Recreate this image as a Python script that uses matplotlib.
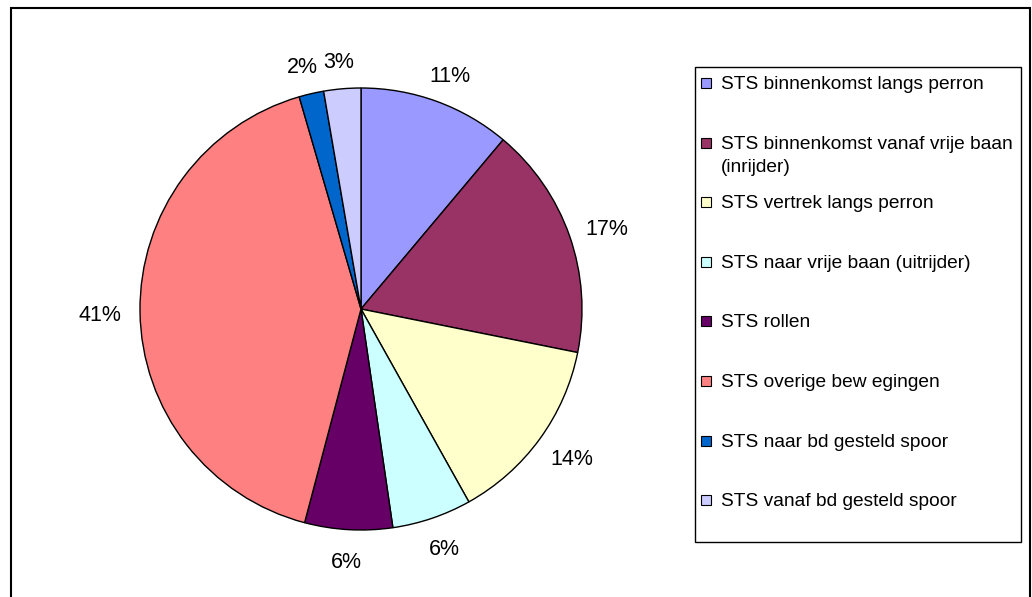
import matplotlib
matplotlib.use("Agg")
import numpy as np
import matplotlib.pyplot as plt
from matplotlib.patches import Rectangle

plt.rcParams['font.family'] = ['Liberation Sans', 'DejaVu Sans']

# slice data (percent), clockwise from 12 o'clock
categories = [
    "STS binnenkomst langs perron",
    "STS binnenkomst vanaf vrije baan\n(inrijder)",
    "STS vertrek langs perron",
    "STS naar vrije baan (uitrijder)",
    "STS rollen",
    "STS overige bew egingen",
    "STS naar bd gesteld spoor",
    "STS vanaf bd gesteld spoor",
]
values = [11.1, 17.0, 13.7, 5.8, 6.4, 41.3, 1.8, 2.7]
colors = ["#9999FF", "#993366", "#FFFFCC", "#CCFFFF",
          "#660066", "#FF8080", "#0066CC", "#CCCCFF"]

W, H = 1032, 597
fig = plt.figure(figsize=(W / 100, H / 100), dpi=100)

# pie axes: centre at (361, 309) px, radius 221 px
R = 221
cx, cy = 361, 309
half = 1.3 * R
ax = fig.add_axes([(cx - half) / W, (H - cy - half) / H, 2 * half / W, 2 * half / H])
wedges, texts, pcts = ax.pie(values, colors=colors, startangle=90, counterclock=False,
                             autopct='%.0f%%', pctdistance=1.16,
                             wedgeprops=dict(edgecolor='black', linewidth=1.0),
                             textprops=dict(fontsize=15.5, color='black'))
ax.set_xlim(-1.3, 1.3)
ax.set_ylim(-1.3, 1.3)
ax.set_aspect('equal')
ax.axis('off')

# Excel style "outside end" labels: anchor just outside the rim,
# text box pushed outwards by half its size (box a bit taller than glyphs)
for w, t in zip(wedges, pcts):
    th = np.deg2rad((w.theta1 + w.theta2) / 2)
    dx, dy = np.cos(th), np.sin(th)
    t.set_position((1.08 * dx + dx * 22 / R, 1.08 * dy + (dy * 12 - 3) / R))
    t.set_ha('center')
    t.set_va('center')

# outer chart border
fig.patches.append(Rectangle((11 / W, -0.05), (1030 - 11) / W, 1.05 - 8 / H,
                             transform=fig.transFigure, fill=False,
                             edgecolor='black', linewidth=1.5))

# legend box, drawn by hand to get Excel-like even spacing
lx0, ly0, lx1, ly1 = 695, 67, 1021, 542
fig.patches.append(Rectangle((lx0 / W, 1 - ly1 / H), (lx1 - lx0) / W, (ly1 - ly0) / H,
                             transform=fig.transFigure, fill=False,
                             edgecolor='black', linewidth=1.0))
step = 59.6
for i, (lab, col) in enumerate(zip(categories, colors)):
    yc = 83 + i * step
    fig.patches.append(Rectangle((701 / W, 1 - (yc + 5) / H), 10 / W, 10 / H,
                                 transform=fig.transFigure, facecolor=col,
                                 edgecolor='black', linewidth=0.8))
    # first line centred on the marker, extra lines hang below
    fig.text(721 / W, 1 - (yc - 7) / H, lab, fontsize=13.8, va='top',
             ha='left', linespacing=1.5)

fig.savefig("out.png", dpi=100)
